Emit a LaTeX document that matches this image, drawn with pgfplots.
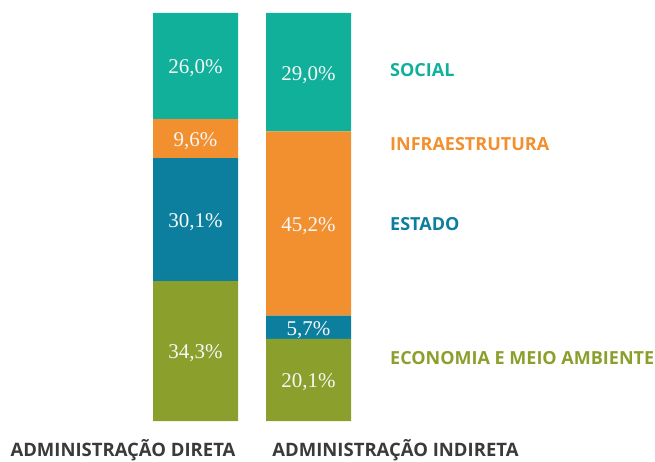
\documentclass[border=0pt]{standalone}
\usepackage{pgfplots}
\pgfplotsset{compat=1.18}
\usepackage{pgfplotstable}
\usepackage{fontspec}
\setmainfont{Liberation Serif}
\newfontfamily\osans{Open Sans}
\definecolor{cSoc}{HTML}{10B09A}
\definecolor{cInf}{HTML}{F28F2E}
\definecolor{cEst}{HTML}{0D7F9E}
\definecolor{cEco}{HTML}{8A9F2C}
\definecolor{cTxt}{HTML}{3A3A3A}
\pgfplotstableread{
x eco ecol est estl inf infl soc socl
0 34.3 34,3 30.1 30,1 9.6 9,6 26.0 26,0
1 20.1 20,1 5.7 5,7 45.2 45,2 29.0 29,0
}\data
\begin{document}
\begin{tikzpicture}[x=1pt,y=1pt]
\useasboundingbox (0,-40) rectangle (655,421);
\begin{axis}[
  at={(139pt,0pt)}, anchor=south west,
  scale only axis, width=226pt, height=408pt,
  xmin=-0.5, xmax=1.5, ymin=0, ymax=100,
  hide axis, clip=false,
  ybar stacked, bar width=85pt,
  point meta=explicit symbolic,
  nodes near coords={\pgfplotspointmeta\%},
  every node near coord/.append style={font=\fontsize{21}{21}\selectfont, text=white!94!gray, anchor=center, yshift=-2.5pt},
]
\addplot[fill=cEco, draw=none] table[x=x,y=eco,meta=ecol]{\data};
\addplot[fill=cEst, draw=none] table[x=x,y=est,meta=estl]{\data};
\addplot[fill=cInf, draw=none] table[x=x,y=inf,meta=infl]{\data};
\addplot[fill=cSoc, draw=none] table[x=x,y=soc,meta=socl]{\data};
\end{axis}
\begin{scope}[every node/.style={anchor=west, inner sep=0pt, font=\osans\bfseries\fontsize{18}{18}\selectfont}]
\node[text=cSoc] at (390,351) {SOCIAL};
\node[text=cInf] at (390,277) {INFRAESTRUTURA};
\node[text=cEst] at (390,197) {ESTADO};
\node[text=cEco] at (390,63) {ECONOMIA E MEIO AMBIENTE};
\end{scope}
\begin{scope}[every node/.style={anchor=center, inner sep=0pt, text=cTxt, font=\osans\bfseries\fontsize{18.5}{18.5}\selectfont}]
\node at (123,-29.5) {ADMINISTRAÇÃO DIRETA};
\node at (395.5,-29.5) {ADMINISTRAÇÃO INDIRETA};
\end{scope}
\end{tikzpicture}
\end{document}
